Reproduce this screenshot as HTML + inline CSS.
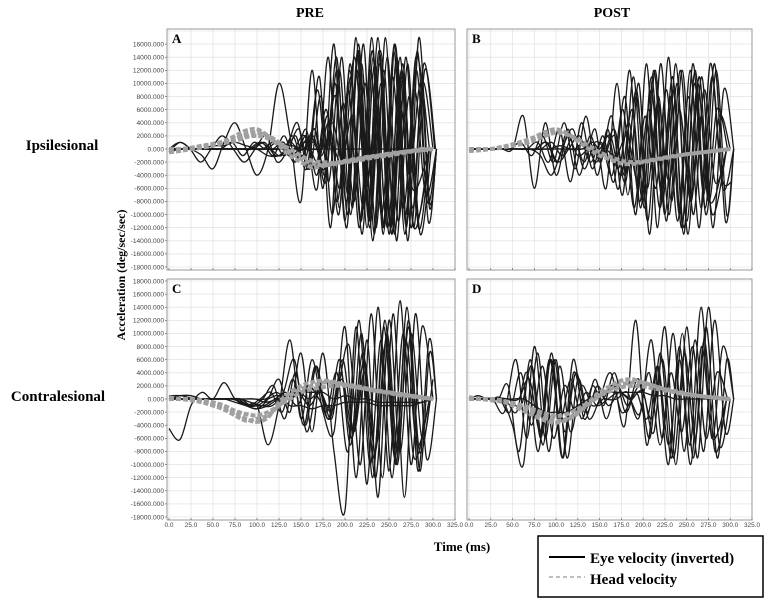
<!DOCTYPE html>
<html><head><meta charset="utf-8"><style>
html,body{margin:0;padding:0;background:#fff;}
svg{display:block;}
</style></head><body>
<svg id="fig" width="773" height="604" viewBox="0 0 773 604" xmlns="http://www.w3.org/2000/svg">
<text x="310" y="17" font-family="Liberation Serif, serif" font-weight="bold" font-size="14" text-anchor="middle">PRE</text>
<text x="612" y="17" font-family="Liberation Serif, serif" font-weight="bold" font-size="14" text-anchor="middle">POST</text>
<text x="62" y="150" font-family="Liberation Serif, serif" font-weight="bold" font-size="15" text-anchor="middle">Ipsilesional</text>
<text x="58" y="401" font-family="Liberation Serif, serif" font-weight="bold" font-size="15" text-anchor="middle">Contralesional</text>
<text transform="translate(125,275) rotate(-90)" font-family="Liberation Serif, serif" font-weight="bold" font-size="12" text-anchor="middle">Acceleration (deg/sec/sec)</text>
<text x="462" y="551" font-family="Liberation Serif, serif" font-weight="bold" font-size="13" text-anchor="middle">Time (ms)</text>
<g>
<rect x="538" y="536" width="225" height="61" fill="#fff" stroke="#000" stroke-width="1.5"/>
<line x1="549" y1="557" x2="585" y2="557" stroke="#000" stroke-width="2"/>
<text x="590" y="563" font-family="Liberation Serif, serif" font-weight="bold" font-size="15">Eye velocity (inverted)</text>
<line x1="549" y1="577" x2="585" y2="577" stroke="#aaa" stroke-width="1.5" stroke-dasharray="4 3"/>
<text x="590" y="584" font-family="Liberation Serif, serif" font-weight="bold" font-size="15">Head velocity</text>
</g>
</svg>
<script>
const timeStep = 12.5;
const xTicks = ["0.0","25.0","50.0","75.0","100.0","125.0","150.0","175.0","200.0","225.0","250.0","275.0","300.0","325.0"];
const yTicks = ["18000.000","16000.000","14000.000","12000.000","10000.000","8000.000","6000.000","4000.000","2000.000","0.000","-2000.000","-4000.000","-6000.000","-8000.000","-10000.000","-12000.000","-14000.000","-16000.000","-18000.000"];
// values in thousands deg/s^2, sampled every 12.5 ms; each trace has an onset shift (ms)
const eyeA = [
[-0.5,1,0,-1,-3,1,4,0,-4,0,10,2,-8,12,-6,16,-11,17,-12,17,-13,14,-12,10,0],
[0,0,0,0,0,0,0,0,1,0,-1,2,-2,3,-5,14,-10,16,-12,15,-13,13,-12,12,0],
[0,0,0,0,0,0,0,0,0,1,-1,0,4,-3,11,-12,14,-9,16,-13,17,-14,13,-12,0],
[0,0,0,0,0,0,0,0,1,-1,2,-2,2,-6,14,-9,13,-11,15,-13,16,-10,12,-8,0],
[0,0,0,0,0,0,0,0,0,0,0,1,-2,3,-4,5,-10,12,-11,17,-12,15,-13,14,0],
[0,0,0,0,0,1,-1,1,0,0,0,0,0,0,1,-2,5,-9,13,-10,14,-14,17,-8,0],
[0,0,0,0,0,0,0,0,0,0,0,0,2,-3,6,-8,9,-12,12,-10,11,-9,9,-7,0],
[0,0,0,0,0,0,0,0,0,0,0,0,0,0,3,-4,12,-7,15,-11,10,-13,11,-12,0],
[0,0,0,0,0,0,0,0,0,1,-1,0,2,-1,4,-2,14,-6,6,-12,8,-4,10,-9,0],
[0,1,0,-2,0,2,0,-2,0,2,-2,0,3,-3,8,-10,7,-8,10,-12,14,-11,8,-13,0],
[0,0,0,0,0,0,0,0,0,0,0,0,1,-2,4,-6,11,-13,14,-12,16,-12,15,-11,0],
[0,0,0,0,0,0,0,0,0,0,1,-1,2,-3,9,-5,12,-10,13,-14,12,-13,14,-10,0],
[0,0,0,0,0,0,0,0,0,0,0,0,0,1,-2,8,-12,15,-11,13,-12,11,-9,13,0],
[0,0,0,0,0,0,0,0,0,0,0,0,1,-1,2,-3,10,-8,12,-9,15,-12,12,-6,0],
[-0.5,0,0,0,0.5,0.5,1,0.5,0,-1,-1,0.5,0,0,0,0,0,0,0,0,0,0,0,0,0]];
const shiftA = [0,3,-4,6,-7,9,4,-9,11,-2,7,-6,2,-11,0];
const headA = [
[-0.5,-0.3,0,0.3,0.6,1,1.5,2.2,2.5,2,1,-0.5,-1.5,-2.2,-2.5,-2.3,-2,-1.8,-1.5,-1.2,-1,-0.7,-0.4,-0.2,0],
[0,0,0.2,0.5,0.8,1.2,2,2.8,3,2,0.5,-1,-2,-2.8,-2.6,-2.2,-1.9,-1.6,-1.3,-1,-0.8,-0.5,-0.3,-0.1,0],
[-0.3,0,0,0.2,0.5,0.9,1.2,1.8,2,1.6,0.8,0,-1,-1.8,-2,-2.1,-1.8,-1.5,-1.2,-1,-0.7,-0.5,-0.3,0,0]];
const eyeB = [
[0,0,0,0,0,5,-6,4,-4,2,-1,0,0,2,-4,6,-8,12,-10,13,-11,10,-8,5,0],
[0,0,0,0,0,0,1,-2,3,-5,4,-3,2,-5,8,-10,13,-12,14,-10,12,-9,11,-6,0],
[0,0,0,0,0,0,0,0,1,-1,2,-2,3,-6,10,-7,10,-13,13,-8,12,-10,9,-5,0],
[0,0,0,0,0,0,-1,-4,0,3,-3,1,0,-1,2,-5,6,-9,8,-12,13,-7,13,-11,0],
[0,0,0,0,0,1,-1,2,-2,4,-3,5,-4,3,-6,12,-9,11,-8,9,-12,12,-10,6,0],
[0,0,0,0,0,0,0,0,0,0,1,-2,2,-3,4,-8,9,-7,11,-13,10,-9,12,-10,0],
[0,0,0,0,0,0,0,1,-2,0,2,-2,1,-4,6,-9,5,-6,9,-11,8,-12,13,-4,-5],
[0,0,0,0,0,0,0,0,0,0.5,0,0,0,-1,3,-4,8,-6,7,-5,6,-8,5,-10,0],
[0,0,0,0,0,0,0,0,1,-2,3,-4,2,-2,5,-7,11,-9,12,-11,10,-13,11,-8,0],
[0,0,0,0,0,0,0,0,0,0,0,1,-1,2,-5,9,-11,8,-10,12,-8,11,-12,9,0]];
const shiftB = [0,4,-5,7,-3,9,2,-8,-11,5];
const headB = [
[0,0,0,0.2,0.5,0.8,1.3,2,2.5,2.2,1.5,0.5,-0.5,-1.2,-1.8,-2,-1.9,-1.6,-1.3,-1,-0.8,-0.6,-0.4,-0.2,0],
[-0.3,-0.2,0,0.3,0.7,1.2,1.8,2.6,3,2.4,1.2,0,-1,-1.6,-2.2,-2.3,-2,-1.7,-1.4,-1.1,-0.8,-0.6,-0.4,-0.2,0]];
const eyeC = [
[-4.5,-6.2,-1,1,0,2.5,0,-1,-1,-7,-1,9,-3,6,-2,-5,11,-12,9,-15,12,-8,10,-6,3],
[0,0.5,0.5,0,0,0,-0.5,-1,-1.5,0,3,-2,7,-5,7,-8,-17,11,-13,14,-11,15,-10,11,0],
[0,0,0,0,0,0,0,-0.5,-1,-1,1,6,-4,5,-3,2,8,-10,13,-12,13,-15,13,-9,0],
[0,0,0,0,0,0,0,0,-1,0,2,-3,4,-5,2,-3,6,-7,10,-12,11,-9,9,-7,0],
[0.5,0.5,0,0,0,0,-0.5,-1,-1,0,1,-1,2,0,-3,4,-6,7,-9,12,-10,14,-11,9,0],
[0,0,0,0,0,0,0,0,0,0,1,0,1,-1,1,-2,3,-5,6,-8,9,-10,12,-8,0],
[0,0,0,0,0,0,0,0,-0.5,0,0.5,1,0,1,-3,6,-5,4,-12,10,-8,11,-11,7,0],
[0,0,0,0,0,0,0,0,-1,0,1,-2,3,-4,5,-2,4,-8,12,-10,9,-12,10,-9,0],
[0.5,0,0,0,0,0,0,-1,-1.5,-1,0,0,1,1,1,0,0.5,0,0,-0.5,-0.5,-0.5,-0.5,-0.5,0],
[0,0,0,0,0,0,0,-1,-1,0,0.5,-1,-1,-1.5,-1,-1,-0.5,-0.5,-0.5,-1,-1,-1,-1,-0.5,0]];
const shiftC = [0,0,5,-6,8,-3,10,-9,0,0];
const headC = [
[0,0,-0.2,-0.5,-1,-1.6,-2.5,-3.3,-3,-2.5,-1,0.5,1.5,2,2.5,2.5,2.2,2,1.6,1.3,1,0.8,0.5,0.3,0],
[0.3,0,0,-0.3,-0.8,-1.2,-2,-3,-3.5,-2.8,-0.5,1,2,2.6,2.8,2.6,2.2,1.8,1.5,1.2,1,0.7,0.5,0.2,0],
[0,0,0,-0.2,-0.5,-1,-1.8,-2.3,-2.5,-2,-1,0,1,1.5,1.8,2,2,1.8,1.5,1.2,0.9,0.6,0.4,0.2,0]];
const eyeD = [
[0,0,0,0,-4,-10,8,-6,6,-9,3,-3,0,4,-2,0,1,-5,11,-10,11,-9,14,-7,0],
[0,0,0,-2,6,-6,7,-8,5,-5,2,-1,0,2,-4,12,-7,5,-10,8,-7,14,-6,8,0],
[0,0,0,0,2,-8,6,-6,7,-9,4,-2,3,-3,2,-1,3,-6,7,-9,10,-9,9,-8,0],
[0,0,0,0,0,3,-5,6,-9,6,-3,1,0,0,1,-3,4,-7,4,-5,8,-8,12,-5,0],
[0,0.5,0,0,0,-2,4,-8,6,-3,3,-3,2,-1,4,-2,1,-3,5,-7,6,-10,8,-6,0],
[0,0,0,0,-1,5,-7,6,-5,4,-2,2,-1,1,0,2,-3,6,-9,7,-6,11,-9,6,0],
[0,0,0,0,0,0,-1,-2,-2,-2,-1,0,0.5,1,1,1,1,0.5,0.5,0,0,0,0,0,0],
[0,0,0,0,-2,4,-4,5,-6,2,-2,1,-1,0,1,0,-2,9,-6,10,-8,9,-6,4,0]];
const shiftD = [0,4,-5,7,-8,10,0,-3];
const headD = [
[0,0,-0.2,-0.4,-0.8,-1.3,-2,-2.8,-3.3,-3,-2,-0.8,0.5,1.5,2.2,2.5,2.5,2,1.5,1,0.7,0.5,0.3,0.1,0],
[0.3,0,0,-0.3,-1,-1.8,-2.6,-3.3,-3.6,-3.2,-2.2,-0.5,1,2,2.8,3,2.5,2,1.5,1.2,0.8,0.5,0.3,0.2,0],
[0,0,0,-0.2,-0.6,-1,-1.6,-2.2,-2.6,-2.3,-1.5,-0.5,0.5,1.2,1.8,2,1.9,1.6,1.3,1,0.7,0.5,0.3,0.1,0]];

const NS = "http://www.w3.org/2000/svg";
const svg = document.getElementById('fig');
function mk(tag, attrs, parent){ const e=document.createElementNS(NS,tag); for(const k in attrs) e.setAttribute(k,attrs[k]); (parent||svg).appendChild(e); return e; }

const panels = [
 {id:'a', letter:'A', x0:169, x1:455, yTop:31, yBot:267, eye:eyeA, shift:shiftA, head:headA, yLabels:true, skipTop:true, xLabels:false},
 {id:'b', letter:'B', x0:469, x1:752, yTop:31, yBot:267, eye:eyeB, shift:shiftB, head:headB, yLabels:false, xLabels:false},
 {id:'c', letter:'C', x0:169, x1:455, yTop:281, yBot:517, eye:eyeC, shift:shiftC, head:headC, yLabels:true, skipTop:false, xLabels:true},
 {id:'d', letter:'D', x0:469, x1:752, yTop:281, yBot:517, eye:eyeD, shift:shiftD, head:headD, yLabels:false, xLabels:true}
];

function pathFrom(vals, sx, sy, shift){
  const n = vals.length;
  const pts = vals.map((v,i)=>{
    let t = i===0 ? 0 : i*timeStep + shift*Math.min(1,i/4);
    if(i===n-1) t = Math.min(304, Math.max(296, t));
    else if(i===n-2) t = Math.min(296, t);
    t = Math.max(0, t);
    return [sx(t), sy(v*1000)];
  });
  let d = "M"+pts[0][0].toFixed(1)+","+pts[0][1].toFixed(1);
  for(let i=0;i<pts.length-1;i++){
    const p0=pts[Math.max(0,i-1)], p1=pts[i], p2=pts[i+1], p3=pts[Math.min(pts.length-1,i+2)];
    const c1=[p1[0]+(p2[0]-p0[0])/6, p1[1]+(p2[1]-p0[1])/6];
    const c2=[p2[0]-(p3[0]-p1[0])/6, p2[1]-(p3[1]-p1[1])/6];
    d+=" C"+c1[0].toFixed(1)+","+c1[1].toFixed(1)+" "+c2[0].toFixed(1)+","+c2[1].toFixed(1)+" "+p2[0].toFixed(1)+","+p2[1].toFixed(1);
  }
  return d;
}

panels.forEach(p=>{
  const sx = t => p.x0 + (t/325)*(p.x1-p.x0);
  const sy = v => p.yTop + (18000 - v)/36000*(p.yBot-p.yTop);
  const g = mk('g',{});
  
  
  const left = p.x0-2, top = p.yTop-2, bottom = p.yBot+3;
  const clip = mk('clipPath',{id:'clip-'+p.id}, g);
  mk('rect',{x:left,y:top,width:p.x1-left,height:bottom-top},clip);
  const grid = mk('g',{stroke:'#dcdcdc','stroke-width':0.6},g);
  
  
  xTicks.forEach((lab,i)=>{ const x=sx(i*25); mk('line',{x1:x,y1:top,x2:x,y2:bottom},grid); });
  yTicks.forEach((lab,i)=>{ const y=sy(18000-i*2000); mk('line',{x1:left,y1:y,x2:p.x1,y2:y},grid); });
  const frame = mk('rect',{x:left,y:top,width:p.x1-left,height:bottom-top,fill:'none',stroke:'#999','stroke-width':1},g);
  
  
  xTicks.forEach((lab,i)=>{ const x=sx(i*25); mk('line',{x1:x,y1:bottom,x2:x,y2:bottom-2,stroke:'#666','stroke-width':0.7},g); });
  if(p.yLabels){
    yTicks.forEach((lab,i)=>{
      if(p.skipTop && i===0) return;
      const y=sy(18000-i*2000);
      mk('line',{x1:left-2,y1:y,x2:left,y2:y,stroke:'#666','stroke-width':0.7},g);
      const t=mk('text',{x:left-3,y:y+2.3,'font-family':'Liberation Sans, sans-serif','font-size':6.6,fill:'#444','text-anchor':'end'},g);
      
      
      t.textContent=lab;
    });
  }
  if(p.xLabels){
    xTicks.forEach((lab,i)=>{
      const t=mk('text',{x:sx(i*25),y:527,'font-family':'Liberation Sans, sans-serif','font-size':6.4,fill:'#444','text-anchor':'middle'},g);
      
      
      t.textContent=lab;
    });
  }
  const series = mk('g',{'clip-path':'url(#clip-'+p.id+')'},g);
  p.eye.forEach((vals,k)=>{
    const e=mk('path',{d:pathFrom(vals,sx,sy,p.shift[k]||0),fill:'none',stroke:'#1a1a1a','stroke-width':1.3},series);
    
    
  });
  p.head.forEach((vals,k)=>{
    const e=mk('path',{d:pathFrom(vals,sx,sy,0),fill:'none',stroke:'#a0a0a0','stroke-width':4,'stroke-dasharray':'5 2'},series);
    
    
  });
  const L=mk('text',{x:left+5,y:top+14,'font-family':'Liberation Serif, serif','font-weight':'bold','font-size':13},g);
  
  
  L.textContent=p.letter;
});
</script>
</body></html>
